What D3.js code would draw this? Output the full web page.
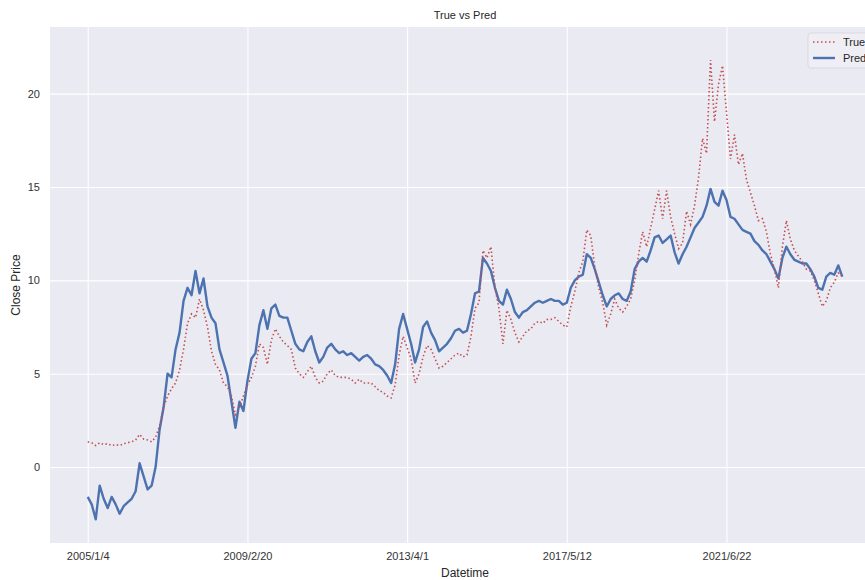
<!DOCTYPE html>
<html>
<head>
<meta charset="utf-8">
<script src="https://cdn.jsdelivr.net/npm/d3@7/dist/d3.min.js"></script>
<style>
  body { margin: 0; background: #fff; }
  text { font-family: "Liberation Sans", Arial, sans-serif; fill: #262626; }
</style>
</head>
<body>
<div id="chart"></div>
<script>
// one sample every 25 trading days
const step = 25

const tickIndex = [0, 1000, 2000, 3000, 4000]
const tickLabels = ['2005/1/4', '2009/2/20', '2013/4/1', '2017/5/12', '2021/6/22']
const yTicks = [0, 5, 10, 15, 20]
const seriesNames = ['True', 'Pred']

const trueValues = [
  1.35, 1.3, 1.15, 1.3, 1.2, 1.25, 1.15, 1.2, 1.15, 1.25,
  1.3, 1.35, 1.45, 1.75, 1.5, 1.45, 1.35, 1.6, 2.2, 3.2,
  3.8, 4.2, 4.5, 5.2, 6.3, 7.7, 8.2, 8.0, 9.0, 8.4,
  7.5, 6.2, 5.5, 5.2, 4.5, 4.3, 3.8, 2.8, 3.2, 3.8,
  4.4, 4.8, 5.4, 6.6, 6.4, 5.5, 6.8, 7.4, 7.0, 6.7,
  6.5, 6.3, 5.3, 5.0, 4.8, 5.1, 5.4, 4.8, 4.5, 4.6,
  5.0, 5.2, 4.9, 4.8, 4.8, 4.8, 4.7, 4.5, 4.7, 4.5,
  4.5, 4.5, 4.3, 4.1, 4.0, 3.8, 3.7, 4.4, 6.0, 7.0,
  6.4, 5.8, 4.5, 5.0, 5.9, 6.5, 6.3, 5.8, 5.3, 5.4,
  5.6, 5.8, 6.0, 6.1, 5.9, 6.0, 7.0, 8.5, 8.8, 11.6,
  11.2, 11.8, 9.6, 8.5, 6.6, 8.4, 7.9, 7.2, 6.7, 7.0,
  7.3, 7.4, 7.7, 7.8, 7.7, 7.9, 7.9, 8.0, 7.8, 7.6,
  7.5, 8.6, 9.4, 10.4, 11.0, 12.7, 12.4, 10.7, 9.6, 8.8,
  7.6, 8.2, 9.0, 8.5, 8.3, 8.6, 9.0, 10.0, 11.4, 12.6,
  11.8, 12.8, 13.8, 14.8, 13.3, 14.8, 13.4, 12.5, 11.7, 12.0,
  13.7, 13.0, 14.0, 15.5, 17.6, 16.8, 21.8, 18.5, 20.5, 21.5,
  19.0, 16.5, 17.8, 16.2, 16.8, 15.4, 14.7, 14.0, 13.2, 13.3,
  12.6, 11.4, 10.6, 9.6, 11.8, 13.2, 12.2, 11.6, 11.3, 11.0,
  10.6, 10.5, 10.0, 9.3, 8.6, 8.9, 9.6, 9.9, 10.4, 10.2
]

const predValues = [
  -1.6, -2.0, -2.8, -1.0, -1.7, -2.2, -1.6, -2.0, -2.5, -2.1,
  -1.9, -1.7, -1.3, 0.2, -0.5, -1.2, -1.0, 0.0, 2.0, 3.2,
  5.0, 4.8, 6.3, 7.2, 8.9, 9.6, 9.2, 10.5, 9.3, 10.1,
  8.6, 8.0, 7.7, 6.3, 5.6, 4.9, 3.5, 2.1, 3.5, 3.0,
  4.6, 5.8, 6.1, 7.6, 8.4, 7.4, 8.5, 8.7, 8.1, 8.0,
  8.0, 7.3, 6.6, 6.3, 6.2, 6.7, 7.0, 6.2, 5.6, 5.9,
  6.4, 6.6, 6.3, 6.1, 6.2, 6.0, 6.1, 5.9, 5.7, 5.9,
  6.0, 5.8, 5.5, 5.4, 5.2, 4.9, 4.5, 5.5, 7.4, 8.2,
  7.4, 6.6, 5.6, 6.3, 7.5, 7.8, 7.2, 6.8, 6.2, 6.4,
  6.6, 6.9, 7.3, 7.4, 7.2, 7.3, 8.2, 9.3, 9.4, 11.2,
  10.9, 10.5, 9.6, 8.9, 8.7, 9.5, 9.0, 8.3, 8.0, 8.3,
  8.4, 8.6, 8.8, 8.9, 8.8, 8.9, 9.0, 8.9, 8.9, 8.7,
  8.8, 9.6, 10.0, 10.2, 10.3, 11.4, 11.2, 10.6, 9.9, 9.2,
  8.6, 9.0, 9.2, 9.3, 9.0, 8.9, 9.4, 10.6, 11.0, 11.2,
  11.0, 11.6, 12.3, 12.4, 12.0, 12.2, 12.4, 11.5, 10.9, 11.4,
  11.8, 12.3, 12.8, 13.1, 13.4, 14.0, 14.9, 14.2, 14.0, 14.8,
  14.3, 13.4, 13.3, 13.0, 12.7, 12.6, 12.5, 12.1, 11.9, 11.6,
  11.4, 11.0, 10.6, 10.1, 11.2, 11.8, 11.4, 11.1, 11.0, 10.9,
  10.9, 10.6, 10.2, 9.6, 9.5, 10.2, 10.4, 10.3, 10.8, 10.2
]

const width = 865
const height = 580
// plot box (right edge runs past the cropped figure)
const plotLeft = 50, plotRight = 880, plotTop = 27, plotBottom = 543

const lastIndex = (trueValues.length - 1) * step
const pad = lastIndex * 0.05

const x = d3.scaleLinear()
  .domain([-pad, lastIndex + pad])
  .range([plotLeft, plotRight])

const y = d3.scaleLinear()
  .domain([-4.07, 23.57])
  .range([plotBottom, plotTop])

const svg = d3.select('#chart')
  .append('svg')
  .attr('width', width)
  .attr('height', height)

svg.append('rect')
  .attr('x', plotLeft)
  .attr('y', plotTop)
  .attr('width', plotRight - plotLeft)
  .attr('height', plotBottom - plotTop)
  .style('fill', '#eaeaf2')

// grid + tick labels via axes
const xAxis = svg.append('g')
  .attr('transform', `translate(0,${plotBottom})`)
  .call(d3.axisBottom(x)
    .tickValues(tickIndex)
    .tickFormat((d, i) => tickLabels[i])
    .tickSize(-(plotBottom - plotTop))
    .tickPadding(9))
xAxis.select('.domain').remove()
xAxis.selectAll('line').style('stroke', '#fff').style('stroke-width', 1.1)
xAxis.selectAll('text').style('font-size', '11px').style('fill', '#333')

const yAxis = svg.append('g')
  .attr('transform', `translate(${plotLeft},0)`)
  .call(d3.axisLeft(y)
    .tickValues(yTicks)
    .tickSize(-(plotRight - plotLeft))
    .tickPadding(10))
yAxis.select('.domain').remove()
yAxis.selectAll('line').style('stroke', '#fff').style('stroke-width', 1.1)
yAxis.selectAll('text').style('font-size', '11px').style('fill', '#333')

svg.append('clipPath')
  .attr('id', 'plot-clip')
  .append('rect')
  .attr('x', plotLeft)
  .attr('y', plotTop)
  .attr('width', plotRight - plotLeft)
  .attr('height', plotBottom - plotTop)

const line = d3.line()
  .x((d, i) => x(i * step))
  .y(d => y(d))

svg.append('path')
  .datum(predValues)
  .attr('clip-path', 'url(#plot-clip)')
  .attr('d', line)
  .style('fill', 'none')
  .style('stroke', '#4c72b0')
  .style('stroke-width', 2.4)
  .style('stroke-linejoin', 'round')

svg.append('path')
  .datum(trueValues)
  .attr('clip-path', 'url(#plot-clip)')
  .attr('d', line)
  .style('fill', 'none')
  .style('stroke', '#c44e52')
  .style('stroke-width', 1.6)
  .style('stroke-dasharray', '1.5,2.5')

// titles
svg.append('text')
  .attr('x', (plotLeft + plotRight) / 2)
  .attr('y', 19)
  .attr('text-anchor', 'middle')
  .style('font-size', '11px')
  .text('True vs Pred')

svg.append('text')
  .attr('x', (plotLeft + plotRight) / 2)
  .attr('y', 577)
  .attr('text-anchor', 'middle')
  .style('font-size', '12px')
  .text('Datetime')

svg.append('text')
  .attr('transform', `translate(20,${(plotTop + plotBottom) / 2}) rotate(-90)`)
  .attr('text-anchor', 'middle')
  .style('font-size', '12px')
  .text('Close Price')

// legend
const legend = svg.append('g')
  .attr('transform', 'translate(808,33)')

legend.append('rect')
  .attr('width', 80)
  .attr('height', 35)
  .attr('rx', 3)
  .style('fill', '#eeeef4')
  .style('stroke', '#d4d4dc')
  .style('stroke-width', 0.8)

const item = legend.selectAll('g.item')
  .data(seriesNames)
  .enter()
  .append('g')
  .attr('class', 'item')
  .attr('transform', (d, i) => `translate(0,${9 + i * 16})`)

item.append('line')
  .attr('x1', 5)
  .attr('x2', 27)
  .style('stroke', d => d === 'True' ? '#c44e52' : '#4c72b0')
  .style('stroke-width', d => d === 'True' ? 1.6 : 2.4)
  .style('stroke-dasharray', d => d === 'True' ? '1.5,2.5' : null)

item.append('text')
  .attr('x', 35)
  .attr('y', 4)
  .style('font-size', '11px')
  .text(d => d)
</script>
</body>
</html>
